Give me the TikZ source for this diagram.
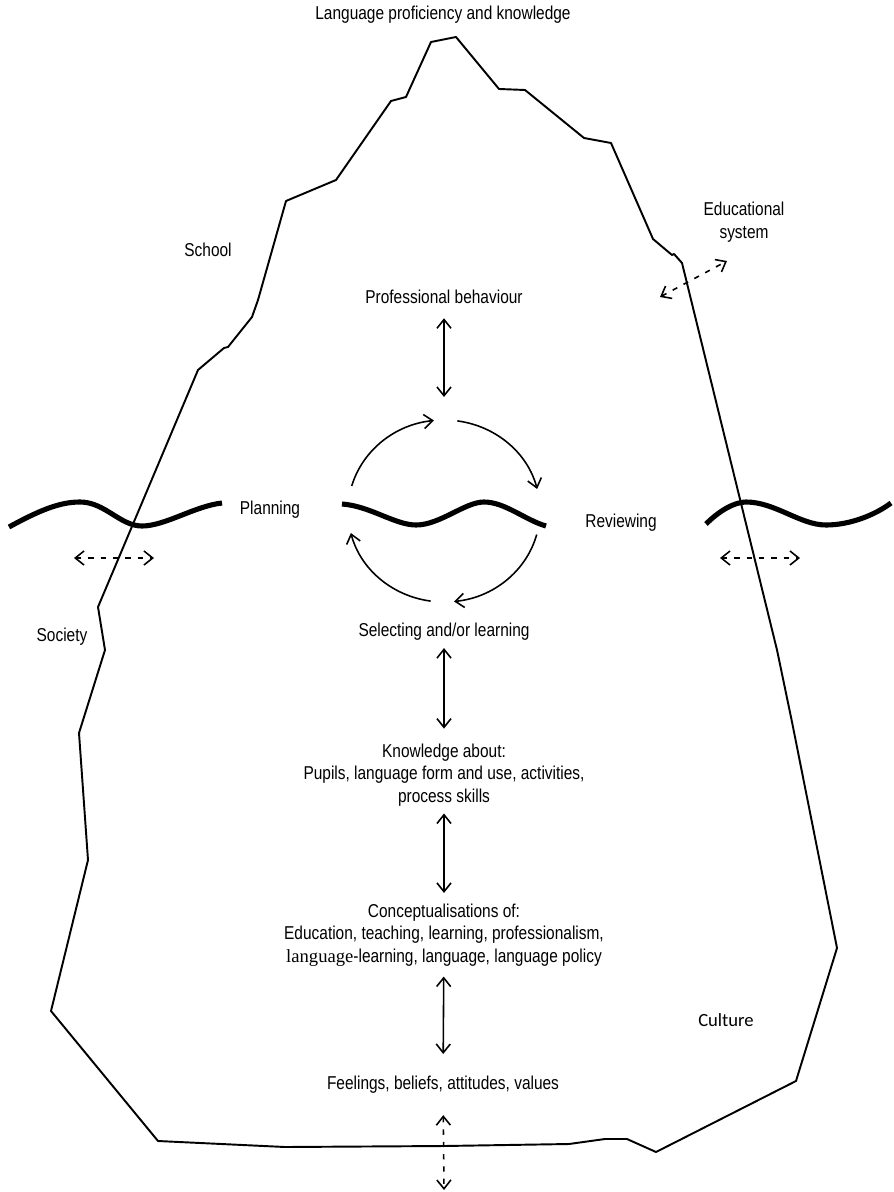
\documentclass[tikz,border=0pt]{standalone}
\usepackage{fontspec}
\setmainfont{Liberation Sans}[FakeStretch=0.83]
\newfontfamily\culturefont{Carlito}
\newfontfamily\serffont{Liberation Serif}
\usetikzlibrary{arrows.meta}

\begin{document}
\begin{tikzpicture}[x=0.02cm, y=-0.02cm,
    txt/.style={inner sep=0pt, align=center, font=\fontsize{10.6}{12.75}\selectfont},
    berg/.style={line width=1.1pt, line join=round},
    wave/.style={line width=2.9pt},
    dbl/.style={{Straight Barb[length=5pt,width=8pt]}-{Straight Barb[length=5pt,width=8pt]}, line width=0.9pt},
    turn/.style={-{Straight Barb[length=5pt,width=8pt]}, line width=0.9pt},
    drift/.style={dbl, dash pattern=on 3pt off 4pt}]
    \useasboundingbox (0,0) rectangle (893,1192);

    % iceberg
    \draw[berg] (431,42) -- (456,37) -- (499,89) -- (525,90) -- (584,138) -- (611,143)
      -- (653,239) -- (672,255) -- (674,254) -- (682,263) -- (777,650) -- (792,722) -- (837,948)
      -- (796,1081) -- (656,1152) -- (627,1139) -- (605,1139) -- (569,1144) -- (444,1146)
      -- (285,1147) -- (158,1141) -- (51,1011) -- (88,860) -- (79,733) -- (105,650) -- (98,607)
      -- (198,370) -- (224,348) -- (228,347) -- (252,317) -- (258,300) -- (286,201) -- (336,180)
      -- (391,101) -- (406,97) -- cycle;

    % waterline
    \draw[wave] (9,527) .. controls (40,510) and (60,502) .. (80,502)
      .. controls (105,502) and (120,526) .. (142,526)
      .. controls (165,526) and (195,506) .. (222,503);
    \draw[wave] (342,504) .. controls (370,506) and (395,525) .. (416,525)
      .. controls (440,525) and (465,502) .. (484,502)
      .. controls (505,502) and (525,520) .. (546,526);
    \draw[wave] (706,524) .. controls (720,510) and (735,502) .. (746,502)
      .. controls (775,502) and (800,525) .. (826,525)
      .. controls (850,525) and (875,515) .. (891,503);

    % texts
    \node[txt] (lang) at (443,15) {Language proficiency and knowledge};
    \node[txt] (school) at (208,250) {School};
    \node[txt] (edu) at (744,222) {Educational\\system};
    \node[txt] (prof) at (444,297) {Professional behaviour};
    \node[txt] (plan) at (270,510) {Planning};
    \node[txt] (rev) at (621,523) {Reviewing};
    \node[txt] (soc) at (62,637) {Society};
    \node[txt] (sel) at (444,632) {Selecting and/or learning};
    \node[txt] (know) at (444,775) {Knowledge about:\\Pupils, language form and use, activities,\\process skills};
    \node[txt] (concept) at (444,935) {Conceptualisations of:\\Education, teaching, learning, professionalism,\\{\serffont language}-learning, language, language policy};
    \node[txt, font=\culturefont\fontsize{10.6}{12.75}\selectfont] (culture) at (726,1020) {Culture};
    \node[txt] (feel) at (443,1085) {Feelings, beliefs, attitudes, values};

    % cycle
    \coordinate (cyc) at (444,511);
    \coordinate (ctop) at (444,397);
    \draw[turn] ([shift={(164:1.92cm and 1.82cm)}]cyc) arc[start angle=164, end angle=96, x radius=1.92cm, y radius=1.82cm];
    \draw[turn] ([shift={(82:1.92cm and 1.82cm)}]cyc) arc[start angle=82, end angle=14, x radius=1.92cm, y radius=1.82cm];
    \draw[turn] ([shift={(-15:1.92cm and 1.82cm)}]cyc) arc[start angle=-15, end angle=-84, x radius=1.92cm, y radius=1.82cm];
    \draw[turn] ([shift={(-98:1.92cm and 1.82cm)}]cyc) arc[start angle=-98, end angle=-166, x radius=1.92cm, y radius=1.82cm];

    % links
    \draw[dbl, shorten <=8pt] (prof) -- (ctop);
    \draw[dbl, shorten <=4pt, shorten >=8.5pt] (sel) -- (know);
    \draw[dbl, shorten <=4pt, shorten >=6pt] (know) -- (concept);
    \draw[dbl, shorten <=5.7pt, shorten >=12.5pt] (concept) -- (feel);

    % outside influences
    \coordinate (socl) at (74,558);
    \coordinate (socr) at (154,558);
    \coordinate (cull) at (720,558);
    \coordinate (culr) at (800,558);
    \coordinate (edul) at (660,297);
    \coordinate (edur) at (727,261);
    \coordinate (deep) at (444,1190);
    \draw[drift] (socl) -- (socr);
    \draw[drift] (cull) -- (culr);
    \draw[drift] (edul) -- (edur);
    \draw[drift, shorten <=12pt] (feel) -- (deep);
\end{tikzpicture}
\end{document}
